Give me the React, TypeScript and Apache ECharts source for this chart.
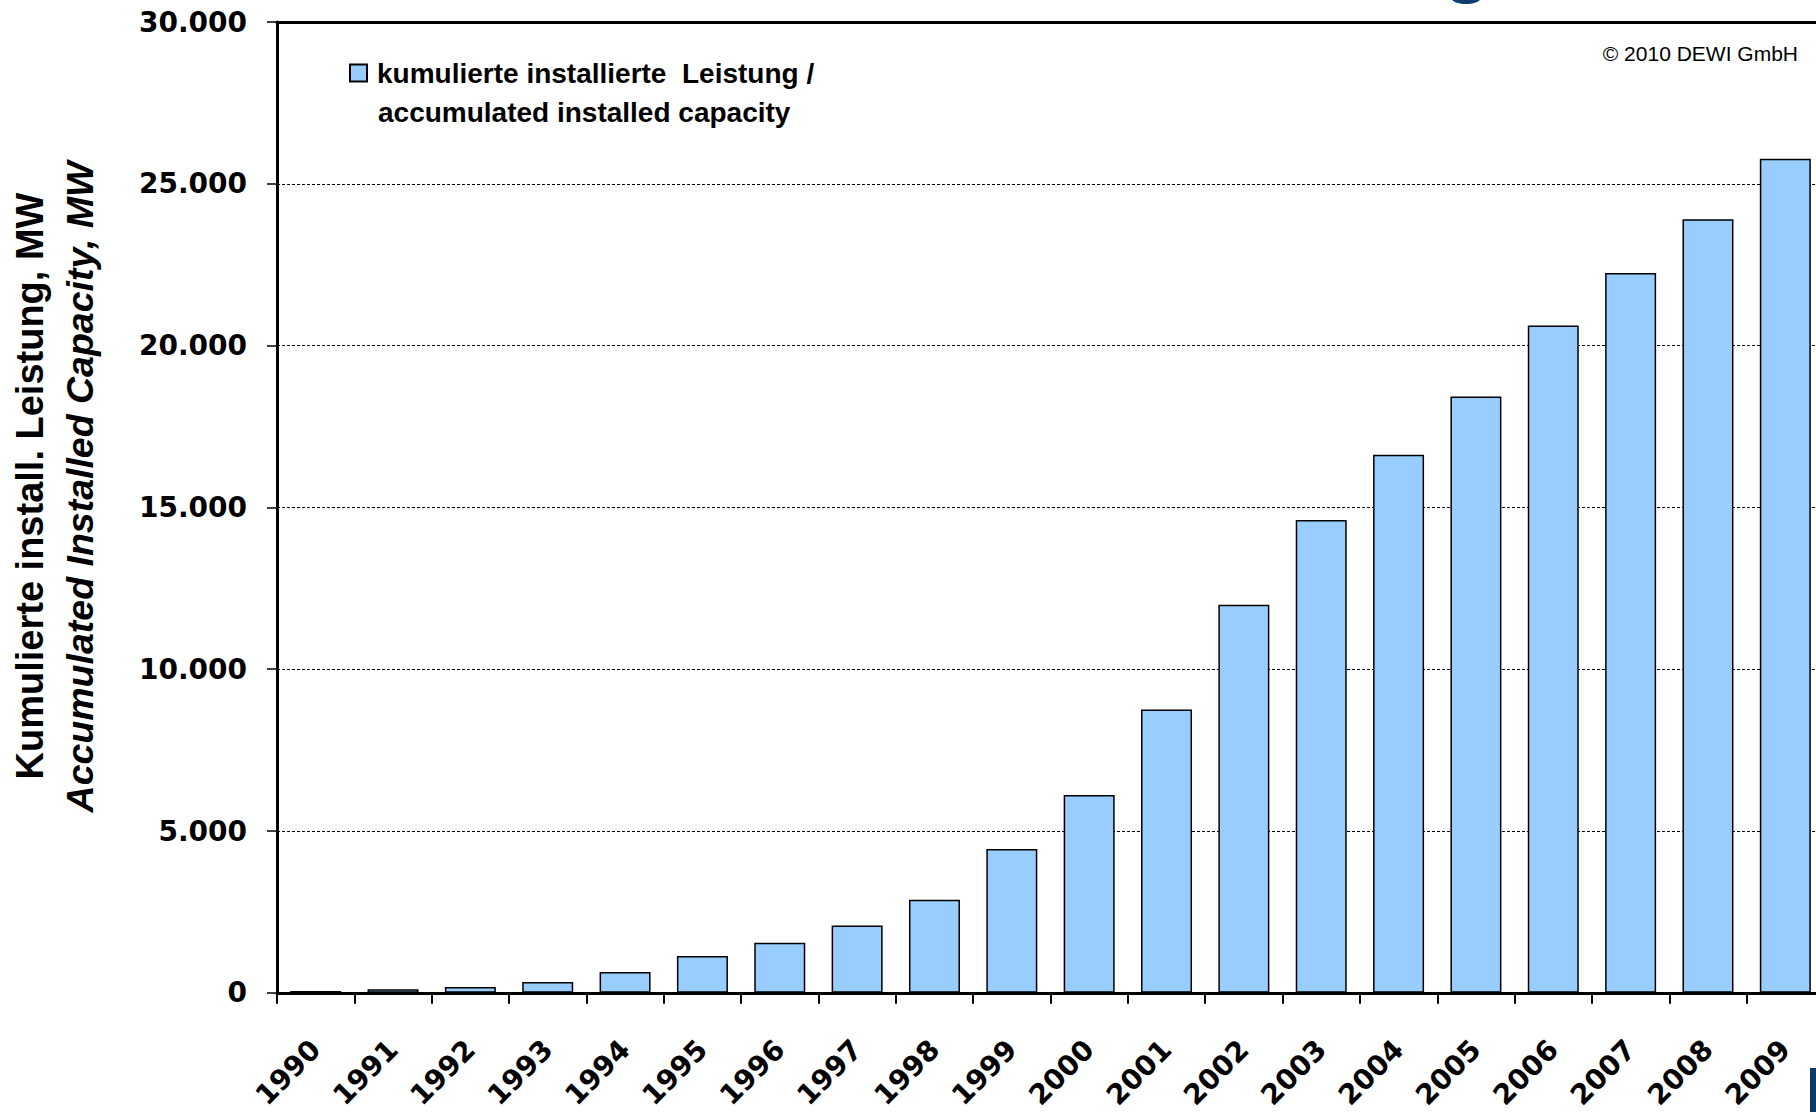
import React, { useEffect, useRef } from "react";
import * as echarts from "echarts";

const years = ["1990", "1991", "1992", "1993", "1994", "1995", "1996", "1997", "1998", "1999", "2000", "2001", "2002", "2003", "2004", "2005", "2006", "2007", "2008", "2009"];
const capacity = [55, 110, 183, 334, 643, 1137, 1546, 2082, 2875, 4443, 6113, 8754, 11994, 14609, 16629, 18428, 20622, 22247, 23903, 25777];
const seriesName = "kumulierte installierte  Leistung /";
const legendLine2 = "accumulated installed capacity";
const yTitle1 = "Kumulierte install. Leistung, MW";
const yTitle2 = "Accumulated Installed Capacity, MW";
const copyright = "© 2010 DEWI GmbH";

const fmtY = (v: number) => (v === 0 ? "0" : `${Math.round(v / 1000)}.000`);

export default function App() {
  const ref = useRef<HTMLDivElement>(null);
  useEffect(() => {
    document.body.style.margin = "0";
    document.body.style.overflow = "hidden";
    const chart = echarts.init(ref.current!, null, { renderer: "svg" });
    const narrow = "'Liberation Sans', Arial, sans-serif";
    chart.setOption({
      animation: false,
      backgroundColor: "#ffffff",
      grid: { left: 277, top: 22, width: 1547, height: 972 },
      legend: {
        show: true,
        left: 344,
        top: 54,
        itemWidth: 17,
        itemHeight: 17,
        icon: "rect",
        data: [seriesName],
        textStyle: { fontFamily: narrow, fontWeight: "bold", fontSize: 28, color: "#000", padding: [0, 0, 0, 5] },
      },
      xAxis: [
        {
          type: "category",
          data: years,
          boundaryGap: true,
          axisLine: { show: true, lineStyle: { color: "#000", width: 3 } },
          axisTick: { show: true, inside: false, length: 11, alignWithLabel: false, interval: 0, lineStyle: { color: "#000", width: 2 } },
          axisLabel: {
            interval: 0,
            rotate: 45,
            margin: 52,
            fontFamily: "'DejaVu Sans', Verdana, sans-serif",
            fontWeight: "bold",
            fontSize: 28,
            color: "#000",
          },
          splitLine: { show: false },
        },
        {
          type: "category",
          data: years,
          position: "top",
          axisLine: { show: true, lineStyle: { color: "#000", width: 3 } },
          axisTick: { show: false },
          axisLabel: { show: false },
          splitLine: { show: false },
        },
      ],
      yAxis: {
        type: "value",
        min: 0,
        max: 30000,
        interval: 5000,
        axisLine: { show: true, lineStyle: { color: "#000", width: 3 } },
        axisTick: { show: true, inside: false, length: 10, lineStyle: { color: "#000", width: 1.5 } },
        axisLabel: {
          formatter: fmtY,
          margin: 30,
          fontFamily: "'DejaVu Sans', Verdana, sans-serif",
          fontWeight: "bold",
          fontSize: 28,
          color: "#000",
        },
        splitLine: { show: true, lineStyle: { color: "#000", width: 1, type: [3, 2] } },
      },
      series: [
        {
          name: seriesName,
          type: "bar",
          data: capacity,
          barWidth: 51,
          itemStyle: { color: "#99CCFF", borderColor: "#000", borderWidth: 1.5 },
        },
      ],
      graphic: [
        {
          type: "text",
          x: 378,
          y: 112,
          style: { text: legendLine2, fontFamily: narrow, fontWeight: "bold", fontSize: 28, fill: "#000", align: "left", verticalAlign: "middle" },
        },
        {
          type: "text",
          x: 1798,
          y: 53,
          style: { text: copyright, fontFamily: narrow, fontSize: 21, fill: "#000", align: "right", verticalAlign: "middle" },
        },
        {
          type: "text",
          x: 30,
          y: 486,
          rotation: Math.PI / 2,
          style: { text: yTitle1, fontFamily: narrow, fontWeight: "bold", fontSize: 38, fill: "#000", align: "center", verticalAlign: "middle" },
        },
        {
          type: "text",
          x: 80,
          y: 487,
          rotation: Math.PI / 2,
          style: { text: yTitle2, fontFamily: narrow, fontWeight: "bold", fontStyle: "italic", fontSize: 37.5, fill: "#000", align: "center", verticalAlign: "middle" },
        },
        {
          type: "ellipse",
          shape: { cx: 1466, cy: -1, rx: 14, ry: 5 },
          style: { fill: "#0e3c6e" },
        },
        {
          type: "rect",
          shape: { x: 1810, y: 1068, width: 10, height: 50 },
          style: { fill: "#0c3a6b" },
        },
      ],
    });
    return () => chart.dispose();
  }, []);
  return <div ref={ref} style={{ position: "absolute", left: 0, top: 0, width: 1840, height: 1112 }} />;
}
